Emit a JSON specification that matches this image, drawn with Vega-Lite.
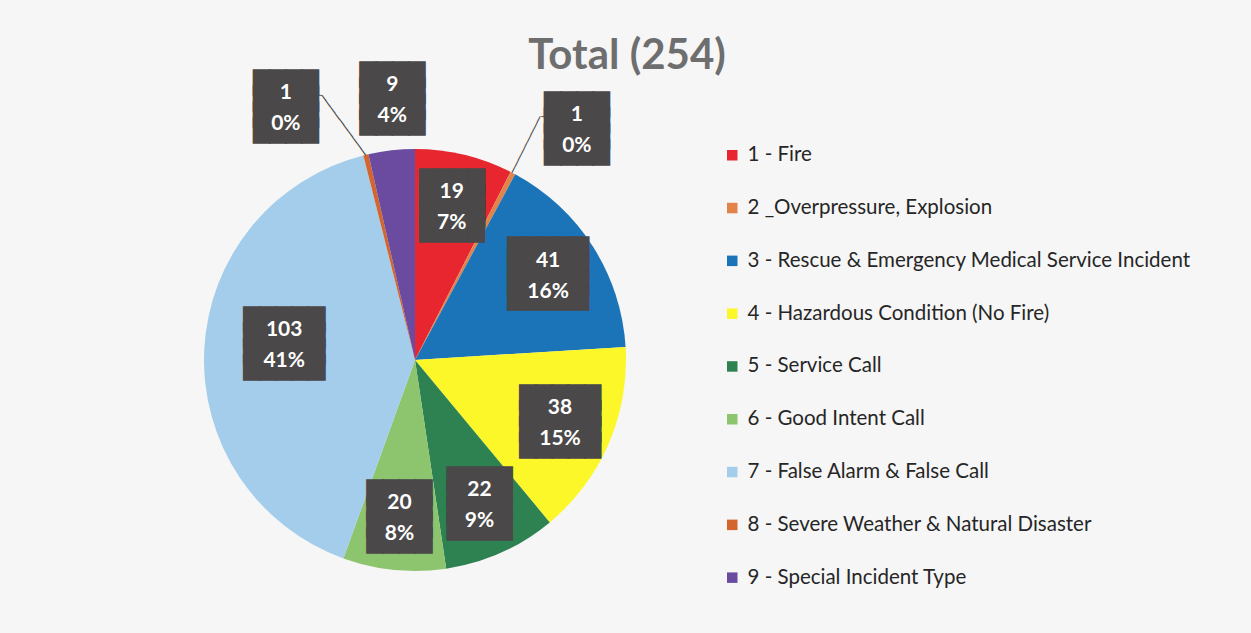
{
  "$schema": "https://vega.github.io/schema/vega-lite/v6.json",
  "width": 830,
  "height": 540,
  "autosize": {"type": "none"},
  "padding": {"left": 0, "top": 90, "right": 421, "bottom": 3},
  "background": "#f6f6f6",
  "title": {"text": "Total (254)", "anchor": "middle", "dx": 212, "dy": 44, "offset": -2, "baseline": "alphabetic", "fontSize": 42, "font": "Lato", "fontWeight": "bold", "color": "#6e6e6e"},
  "data": {
    "values": [
      {"id": 1, "category": "1 - Fire", "value": 19, "label": "19\n7%"},
      {"id": 2, "category": "2 _Overpressure, Explosion", "value": 1, "label": "1\n0%"},
      {"id": 3, "category": "3 - Rescue & Emergency Medical Service Incident", "value": 41, "label": "41\n16%"},
      {"id": 4, "category": "4 - Hazardous Condition (No Fire)", "value": 38, "label": "38\n15%"},
      {"id": 5, "category": "5 - Service Call", "value": 22, "label": "22\n9%"},
      {"id": 6, "category": "6 - Good Intent Call", "value": 20, "label": "20\n8%"},
      {"id": 7, "category": "7 - False Alarm & False Call", "value": 103, "label": "103\n41%"},
      {"id": 8, "category": "8 - Severe Weather & Natural Disaster", "value": 1, "label": "1\n0%"},
      {"id": 9, "category": "9 - Special Incident Type", "value": 9, "label": "9\n4%"}
    ]
  },
  "transform": [
    {"stack": "value", "groupby": [], "sort": [{"field": "id", "order": "ascending"}], "as": ["s0", "s1"]},
    {"calculate": "(datum.s0 + datum.s1) / 2", "as": "mid"}
  ],
  "layer": [
    {
      "mark": {"type": "arc", "radius": 211},
      "encoding": {
        "theta": {"field": "s0", "type": "quantitative", "scale": {"domain": [0, 254]}},
        "theta2": {"field": "s1"},
        "color": {
          "field": "category", "type": "nominal",
          "scale": {
            "domain": ["1 - Fire", "2 _Overpressure, Explosion", "3 - Rescue & Emergency Medical Service Incident", "4 - Hazardous Condition (No Fire)", "5 - Service Call", "6 - Good Intent Call", "7 - False Alarm & False Call", "8 - Severe Weather & Natural Disaster", "9 - Special Incident Type"],
            "range": ["#e8262f", "#e2844a", "#1c74b8", "#fbf728", "#2e8150", "#8dc46e", "#a3cdeb", "#d4652f", "#6a4ba0"]
          },
          "legend": {"title": null, "orient": "none", "legendX": 722, "legendY": 55, "symbolType": "square", "symbolSize": 110, "symbolStrokeWidth": 0, "symbolOpacity": 1, "labelFont": "Lato", "labelFontSize": 20.5, "labelColor": "#262626", "labelLimit": 600, "rowPadding": 31.8, "labelOffset": 5}
        }
      }
    },
    {
      "transform": [{"filter": "datum.value >= 15 && datum.value < 100"}],
      "encoding": {"theta": {"field": "mid", "type": "quantitative", "scale": {"domain": [0, 254]}}},
      "layer": [
        {
          "mark": {"type": "text", "radius": 158, "dy": -23.5, "font": "DejaVu Sans", "fontSize": 21, "lineHeight": 16, "lineBreak": "\n", "color": "#4a4848", "stroke": "#4a4848", "strokeWidth": 1.5, "align": "center", "baseline": "middle"},
          "encoding": {"text": {"condition": {"test": "datum.value >= 25", "value": "█████\n█████\n█████\n█████"}, "value": "████\n████\n████\n████"}}
        },
        {
          "mark": {"type": "text", "radius": 158, "dy": -14.3, "font": "Lato", "fontSize": 21, "fontWeight": "bold", "lineHeight": 31, "lineBreak": "\n", "color": "#ffffff", "align": "center", "baseline": "middle"},
          "encoding": {"text": {"field": "label", "type": "nominal"}}
        }
      ]
    },
    {
      "transform": [{"filter": "datum.value >= 100"}],
      "encoding": {"theta": {"field": "mid", "type": "quantitative", "scale": {"domain": [0, 254]}}},
      "layer": [
        {
          "mark": {"type": "text", "radius": 131, "dy": -32.5, "font": "DejaVu Sans", "fontSize": 21, "lineHeight": 16, "lineBreak": "\n", "color": "#4a4848", "stroke": "#4a4848", "strokeWidth": 1.5, "align": "center", "baseline": "middle", "text": "█████\n█████\n█████\n█████"}
        },
        {
          "mark": {"type": "text", "radius": 131, "dy": -23.3, "font": "Lato", "fontSize": 21, "fontWeight": "bold", "lineHeight": 31, "lineBreak": "\n", "color": "#ffffff", "align": "center", "baseline": "middle"},
          "encoding": {"text": {"field": "label", "type": "nominal"}}
        }
      ]
    },
    {
      "transform": [{"filter": "datum.id == 9"}],
      "encoding": {"theta": {"field": "mid", "type": "quantitative", "scale": {"domain": [0, 254]}}},
      "layer": [
        {
          "mark": {"type": "text", "radius": 259, "dx": 6, "dy": -26.5, "font": "DejaVu Sans", "fontSize": 21, "lineHeight": 16, "lineBreak": "\n", "color": "#4a4848", "stroke": "#4a4848", "strokeWidth": 1.5, "align": "center", "baseline": "middle", "text": "████\n████\n████\n████"}
        },
        {
          "mark": {"type": "text", "radius": 259, "dx": 6, "dy": -17.3, "font": "Lato", "fontSize": 21, "fontWeight": "bold", "lineHeight": 31, "lineBreak": "\n", "color": "#ffffff", "align": "center", "baseline": "middle"},
          "encoding": {"text": {"field": "label", "type": "nominal"}}
        }
      ]
    },
    {
      "transform": [{"filter": "datum.id == 2"}],
      "encoding": {"theta": {"field": "mid", "type": "quantitative", "scale": {"domain": [0, 254]}}},
      "layer": [
        {
          "mark": {"type": "text", "radius": 211, "angle": -63.4, "font": "DejaVu Sans Mono", "fontSize": 11.6, "color": "#404040", "align": "left", "baseline": "middle", "text": "─────────"}
        },
        {
          "mark": {"type": "text", "radius": 211, "dx": 28, "dy": -56, "font": "DejaVu Sans Mono", "fontSize": 9, "color": "#404040", "align": "left", "baseline": "middle", "text": "──"}
        },
        {
          "mark": {"type": "text", "radius": 211, "dx": 64, "dy": -67.5, "font": "DejaVu Sans", "fontSize": 21, "lineHeight": 16, "lineBreak": "\n", "color": "#4a4848", "stroke": "#4a4848", "strokeWidth": 1.5, "align": "center", "baseline": "middle", "text": "████\n████\n████\n████"}
        },
        {
          "mark": {"type": "text", "radius": 211, "dx": 64, "dy": -58.3, "font": "Lato", "fontSize": 21, "fontWeight": "bold", "lineHeight": 31, "lineBreak": "\n", "color": "#ffffff", "align": "center", "baseline": "middle"},
          "encoding": {"text": {"field": "label", "type": "nominal"}}
        }
      ]
    },
    {
      "transform": [{"filter": "datum.id == 8"}],
      "encoding": {"theta": {"field": "mid", "type": "quantitative", "scale": {"domain": [0, 254]}}},
      "layer": [
        {
          "mark": {"type": "text", "radius": 211, "angle": -126.3, "font": "DejaVu Sans Mono", "fontSize": 12.3, "color": "#404040", "align": "left", "baseline": "middle", "text": "──────────"}
        },
        {
          "mark": {"type": "text", "radius": 211, "dx": -54, "dy": -60, "font": "DejaVu Sans Mono", "fontSize": 8.5, "color": "#404040", "align": "left", "baseline": "middle", "text": "──"}
        },
        {
          "mark": {"type": "text", "radius": 211, "dx": -80, "dy": -70.5, "font": "DejaVu Sans", "fontSize": 21, "lineHeight": 16, "lineBreak": "\n", "color": "#4a4848", "stroke": "#4a4848", "strokeWidth": 1.5, "align": "center", "baseline": "middle", "text": "████\n████\n████\n████"}
        },
        {
          "mark": {"type": "text", "radius": 211, "dx": -80, "dy": -61.3, "font": "Lato", "fontSize": 21, "fontWeight": "bold", "lineHeight": 31, "lineBreak": "\n", "color": "#ffffff", "align": "center", "baseline": "middle"},
          "encoding": {"text": {"field": "label", "type": "nominal"}}
        }
      ]
    }
  ],
  "config": {"view": {"stroke": null}}
}
